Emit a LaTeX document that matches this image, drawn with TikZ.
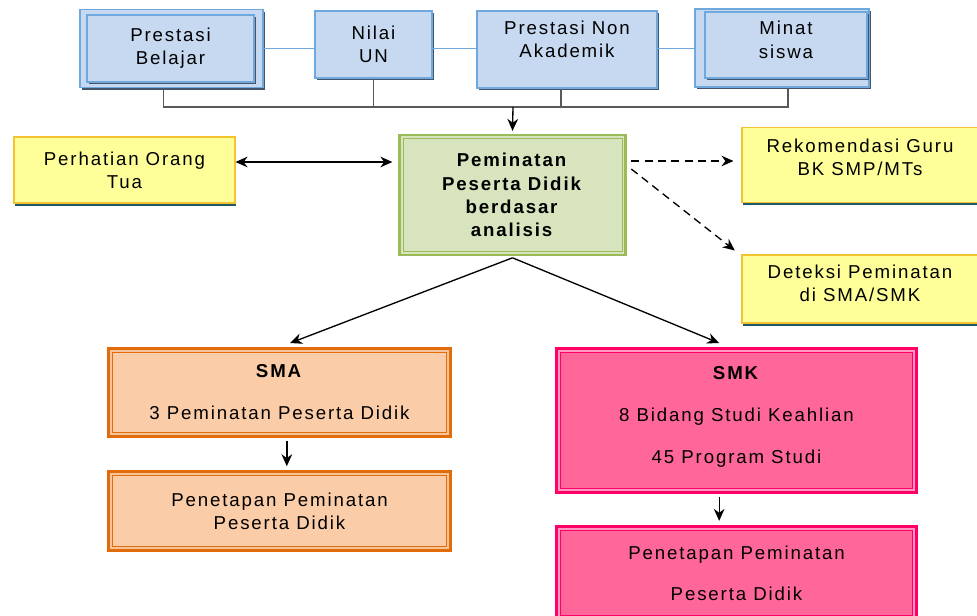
\documentclass[tikz,border=0pt]{standalone}
\usepackage{fontspec}
\setmainfont{Liberation Sans}[LetterSpace=10]
\usepackage{tikz}
\usetikzlibrary{shadows,arrows.meta}

\definecolor{bfill}{HTML}{C6D9F1}
\definecolor{bline}{HTML}{6FA8DC}
\definecolor{bshade}{HTML}{44546A}
\definecolor{yfill}{HTML}{FFFF99}
\definecolor{yline}{HTML}{F4C430}
\definecolor{yshade}{HTML}{215868}
\definecolor{gfill}{HTML}{D7E4BD}
\definecolor{gline}{HTML}{9BBB59}
\definecolor{ofill}{HTML}{FBCCA8}
\definecolor{oline}{HTML}{E36C0A}
\definecolor{pfill}{HTML}{FF6699}
\definecolor{pline}{HTML}{FF0066}
\definecolor{busgray}{HTML}{595959}

\begin{document}
\begin{tikzpicture}[x=0.75pt,y=-0.75pt,
  every node/.style={font=\fontsize{14}{17.5}\selectfont, align=center, inner sep=0pt},
  bluebox/.style={draw=bline, fill=bfill, line width=1.1pt,
    drop shadow={shadow xshift=1.5pt, shadow yshift=-1.5pt, fill=bshade, opacity=1}},
  yelbox/.style={draw=yline, fill=yfill, line width=0.8pt,
    drop shadow={shadow xshift=1pt, shadow yshift=-2pt, fill=yshade, opacity=1}},
  thickbox/.style={draw=#1line, fill=#1fill, line width=4.2pt},
  lift/.style={text depth=#1},
  arr/.style={-{Stealth[length=9pt,width=8pt]}, line width=1pt},
  dash arr/.style={arr, dash pattern=on 6pt off 4pt},
  busline/.style={busgray, line width=1pt}]
 \useasboundingbox (0,0) rectangle (977,615);
 \clip (0,0) rectangle (977,615);

 \node[bluebox, minimum width=137.25pt, minimum height=58.5pt] (pbb) at (171.5,48.5) {};
 \node[bluebox, minimum width=125.25pt, minimum height=50.25pt] (pb) at (170.5,48.5) {Prestasi\\Belajar};
 \node[bluebox, minimum width=87.75pt, minimum height=50.25pt] (nu) at (373.5,44.5) {Nilai\\UN};
 \node[bluebox, lift=15pt, minimum width=135pt, minimum height=57.75pt] (pn) at (567,49.5) {Prestasi Non\\Akademik};
 \node[bluebox, minimum width=130.5pt, minimum height=58.5pt] (msb) at (782,48) {};
 \node[bluebox, lift=8pt, minimum width=121.5pt, minimum height=49.5pt] (ms) at (786,45) {Minat\\siswa};

 \node[thickbox=g, minimum width=168pt, minimum height=88pt] (cen) at (512.5,195)
  {\textbf{Peminatan}\\\textbf{Peserta Didik}\\\textbf{berdasar}\\\textbf{analisis}};
 \node[yelbox, minimum width=165.75pt, minimum height=49.5pt] (pot) at (124.5,170) {Perhatian Orang\\Tua};
 \node[yelbox, lift=12pt, minimum width=177pt, minimum height=56.25pt] (rek) at (860,165) {Rekomendasi Guru\\BK SMP/MTs};
 \node[yelbox, lift=9pt, minimum width=177pt, minimum height=51pt] (det) at (860,289) {Deteksi Peminatan\\di SMA/SMK};

 \node[thickbox=o, minimum width=254pt, minimum height=64pt] (sma) at (279.5,392.5)
  {\textbf{SMA}\\[14pt]3 Peminatan Peserta Didik};
 \node[thickbox=o, minimum width=254pt, minimum height=57pt] (psma) at (279.5,511)
  {Penetapan Peminatan\\Peserta Didik};
 \node[thickbox=p, lift=9pt, minimum width=267.5pt, minimum height=106pt] (smk) at (736.5,420.5)
  {\textbf{SMK}\\[14pt]8 Bidang Studi Keahlian\\[14pt]45 Program Studi};
 \node[thickbox=p, minimum width=267.5pt, minimum height=68pt] (psmk) at (736.5,573)
  {Penetapan Peminatan\\[13pt]Peserta Didik};

 \foreach \n/\c in {cen/g, sma/o, psma/o, smk/p, psmk/p}{
  \draw[\c line!40!white, line width=1.4pt] ([shift={(2.9pt,2.9pt)}]\n.south west) rectangle ([shift={(-2.9pt,-2.9pt)}]\n.north east);
  \draw[\c line, line width=0.7pt] ([shift={(4pt,4pt)}]\n.south west) rectangle ([shift={(-4pt,-4pt)}]\n.north east);
 }

 \draw[bline, line width=0.8pt] (pbb.east) -- (pbb.east -| nu.west)
  (nu.east |- pbb.east) -- (pn.west |- pbb.east) (pn.east |- pbb.east) -- (msb.west |- pbb.east);

 \coordinate (bus) at (513,107);
 \draw[busline] ([xshift=-6pt]pbb.south) |- ([xshift=4.5pt]msb.south |- bus) -- ([xshift=4.5pt]msb.south);
 \draw[busline] (nu.south) -- (nu.south |- bus);
 \draw[busline] ([xshift=-4.5pt]pn.south) -- ([xshift=-4.5pt]pn.south |- bus);
 \draw[arr] (bus) -- ([yshift=2pt]cen.north);

 \draw[arr, {Stealth[length=9pt,width=8pt]}-{Stealth[length=9pt,width=8pt]}]
  ([yshift=6pt]pot.east) -- ([xshift=-4pt,yshift=6pt]pot.east -| cen.west);
 \draw[dash arr] ([shift={(3pt,3pt)}]cen.east |- rek.west) -- ([shift={(-6pt,3pt)}]rek.west);
 \draw[dash arr] ([shift={(3pt,-3pt)}]cen.east |- rek.west) -- ([shift={(-5pt,3pt)}]det.north west);

 \draw[arr] ([yshift=-1pt]cen.south) -- ([shift={(8pt,3pt)}]sma.north);
 \draw[arr] ([yshift=-1pt]cen.south) -- ([shift={(-13pt,3pt)}]smk.north);
 \draw[arr] ([shift={(5.5pt,-2pt)}]sma.south) -- ([shift={(5.5pt,3pt)}]psma.north);
 \draw[arr] ([shift={(-13pt,-2pt)}]smk.south) -- ([shift={(-13pt,3pt)}]psmk.north);
\end{tikzpicture}
\end{document}
